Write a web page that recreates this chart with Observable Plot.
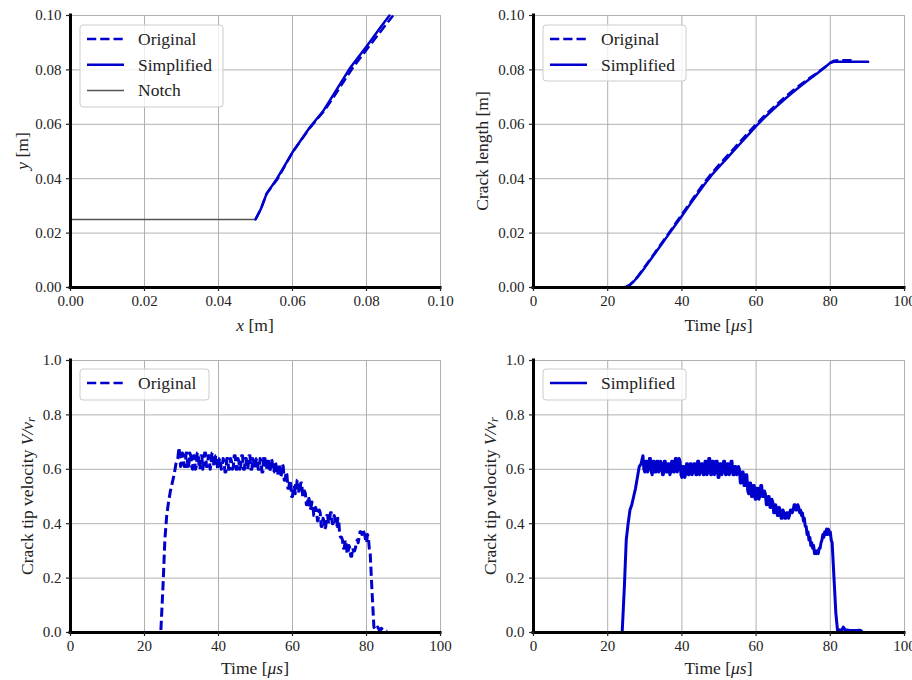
<!DOCTYPE html>
<html><head><meta charset="utf-8">
<script src="https://cdn.jsdelivr.net/npm/d3@7"></script>
<script src="https://cdn.jsdelivr.net/npm/@observablehq/plot@0.6"></script>
<style>
body{margin:0;background:#fff;}
#wrap{position:relative;width:912px;height:680px;overflow:hidden;background:#fff;}
#wrap svg{position:absolute;overflow:visible;}
</style></head><body><div id="wrap"></div>
<script>
// ---------- data ----------
const coordTicks = [0, 0.02, 0.04, 0.06, 0.08, 0.10];
const timeTicks = [0, 20, 40, 60, 80, 100];
const lengthTicks = [0, 0.02, 0.04, 0.06, 0.08, 0.10];
const velocityTicks = [0, 0.2, 0.4, 0.6, 0.8, 1.0];

const notchPath = [[0, 0.025], [0.05, 0.025]];
const pathOriginal = [[0.0500,0.0250],[0.0515,0.0290],[0.0530,0.0345],[0.0560,0.0400],[0.0600,0.0497],[0.0647,0.0587],[0.0686,0.0650],[0.0716,0.0710],[0.0763,0.0808],[0.0808,0.0888],[0.0846,0.0955],[0.0872,0.1000]];
const pathSimplified = [[0.0500,0.0250],[0.0515,0.0290],[0.0530,0.0345],[0.0558,0.0400],[0.0600,0.0497],[0.0646,0.0587],[0.0684,0.0651],[0.0712,0.0712],[0.0757,0.0810],[0.0802,0.0890],[0.0838,0.0957],[0.0862,0.1000]];

const lengthOriginal = [[0,0],[24.4,0],[25.2,0.0003],[26,0.0010],[27,0.0023],[28,0.0039],[30,0.0076],[32,0.0114],[34,0.0153],[36,0.0191],[38,0.0230],[40,0.0269],[42,0.0308],[44,0.0347],[46,0.0385],[48,0.0420],[50,0.0451],[52,0.0481],[54,0.0511],[56,0.0541],[58,0.0571],[60,0.0600],[62,0.0628],[64,0.0654],[66,0.0679],[68,0.0703],[70,0.0725],[72,0.0746],[74,0.0766],[76,0.0785],[78,0.0805],[80,0.0826],[81,0.0834],[83,0.0836],[86,0.0835]];
const lengthSimplified = [[0,0],[24.2,0],[25,0.0003],[26,0.0010],[27,0.0022],[28,0.0037],[30,0.0073],[32,0.0111],[34,0.0149],[36,0.0187],[38,0.0225],[40,0.0263],[42,0.0302],[44,0.0340],[46,0.0378],[48,0.0413],[50,0.0443],[52,0.0473],[54,0.0503],[56,0.0533],[58,0.0563],[60,0.0593],[62,0.0621],[64,0.0647],[66,0.0672],[68,0.0696],[70,0.0719],[72,0.0741],[74,0.0762],[76,0.0782],[78,0.0803],[80,0.0826],[81,0.0830],[85,0.0830],[90.2,0.0830]];

const velocityOriginal = [[0,0],[24.4,0],[25,0.17],[25.5,0.34],[26,0.43],[26.5,0.48],[27,0.52],[27.5,0.55],[28,0.58],[28.5,0.62],[29,0.64],[29.3,0.68],
[29.5,0.66],[29.75,0.61],[30,0.62],[30.25,0.66],[30.5,0.65],[30.75,0.61],[31,0.61],[31.25,0.66],[31.5,0.66],[31.75,0.60],[32,0.62],[32.25,0.66],[32.5,0.65],[32.75,0.61],[33,0.60],[33.25,0.65],[33.5,0.65],[33.75,0.60],[34,0.61],
[34.25,0.66],[34.5,0.66],[34.75,0.61],[35,0.60],[35.25,0.65],[35.5,0.65],[35.75,0.60],[36,0.62],[36.25,0.66],[36.5,0.66],[36.75,0.61],[37,0.61],[37.25,0.65],[37.5,0.65],[37.75,0.60],[38,0.62],[38.25,0.66],[38.5,0.66],[38.75,0.61],[39,0.61],
[39.25,0.65],[39.5,0.65],[39.75,0.60],[40,0.60],[40.25,0.64],[40.5,0.64],[40.75,0.60],[41,0.61],[41.25,0.64],[41.5,0.63],[41.75,0.59],[42,0.59],[42.25,0.64],[42.5,0.64],[42.75,0.60],[43,0.60],[43.25,0.64],[43.5,0.63],[43.75,0.60],[44,0.61],
[44.25,0.65],[44.5,0.65],[44.75,0.60],[45,0.60],[45.25,0.64],[45.5,0.63],[45.75,0.60],[46,0.61],[46.25,0.65],[46.5,0.65],[46.75,0.60],[47,0.60],[47.25,0.64],[47.5,0.64],[47.75,0.60],[48,0.61],[48.25,0.65],[48.5,0.65],[48.75,0.60],[49,0.60],
[49.25,0.64],[49.5,0.63],[49.75,0.60],[50,0.61],[50.25,0.64],[50.5,0.64],[50.75,0.60],[51,0.60],[51.25,0.64],[51.5,0.63],[51.75,0.59],[52,0.59],[52.25,0.65],[52.5,0.65],[52.75,0.60],[53,0.60],[53.25,0.64],[53.5,0.64],[53.75,0.59],[54,0.60],
[54.25,0.64],[54.5,0.63],[54.75,0.59],[55,0.59],[55.25,0.63],[55.5,0.62],[55.75,0.58],[56,0.58],[56.25,0.62],[56.5,0.62],[56.75,0.57],[57,0.58],[57.25,0.62],[57.5,0.61],[57.75,0.56],[58,0.56],[58.25,0.59],[58.5,0.58],[58.75,0.53],[59,0.53],
[59.25,0.56],[59.5,0.55],[59.75,0.50],[60,0.50],[60.25,0.54],[60.5,0.54],[60.75,0.51],[61,0.52],[61.25,0.56],[61.5,0.56],[61.75,0.51],[62,0.52],[62.25,0.55],[62.5,0.55],[62.75,0.50],[63,0.50],[63.25,0.52],[63.5,0.51],[63.75,0.47],[64,0.47],
[64.25,0.50],[64.5,0.49],[64.75,0.45],[65,0.46],[65.25,0.48],[65.5,0.47],[65.75,0.43],[66,0.43],[66.25,0.46],[66.5,0.45],[66.75,0.41],[67,0.42],[67.25,0.45],[67.5,0.44],[67.75,0.39],[68,0.39],[68.25,0.42],[68.5,0.41],[68.75,0.38],[69,0.39],
[69.25,0.43],[69.5,0.43],[69.75,0.40],[70,0.41],[70.25,0.44],[70.5,0.44],[70.75,0.40],[71,0.40],[71.25,0.43],[71.5,0.42],[71.75,0.39],[72,0.39],[72.25,0.42],[72.5,0.41],[72.75,0.36],[73,0.35],[73.25,0.35],[73.5,0.34],[73.75,0.31],[74,0.31],
[74.25,0.34],[74.5,0.33],[74.75,0.29],[75,0.29],[75.25,0.32],[75.5,0.31],[75.75,0.28],[76,0.28],[76.25,0.31],[76.5,0.30],[76.75,0.30],[77,0.31],[77.25,0.33],[77.5,0.34],[77.75,0.33],[78,0.35],[78.25,0.37],[78.5,0.37],[78.75,0.36],[79,0.38],
[79.25,0.37],[79.5,0.36],[79.75,0.34],[80,0.33],[80.25,0.36],[80.5,0.35],[80.75,0.31],[81,0.29],[81.5,0.15],[82,0.02],[82.5,0.01],[83,0.02],[83.5,0.008],[84,0.015],
[84.5,0.008],[85,0.01],[85.5,0.005]];

const velocitySimplified = [[0,0],[23.9,0],[24.5,0.17],[25,0.34],[25.5,0.40],[26,0.45],[26.5,0.47],[27,0.50],[27.5,0.53],[28,0.57],[28.5,0.61],[29,0.62],
[29.5,0.65],[29.75,0.60],[30,0.59],[30.25,0.63],[30.5,0.63],[30.75,0.59],[31,0.60],[31.25,0.64],[31.5,0.64],[31.75,0.59],[32,0.58],[32.25,0.63],[32.5,0.63],[32.75,0.59],[33,0.59],[33.25,0.63],[33.5,0.63],[33.75,0.59],[34,0.60],
[34.25,0.63],[34.5,0.62],[34.75,0.58],[35,0.58],[35.25,0.63],[35.5,0.63],[35.75,0.59],[36,0.59],[36.25,0.62],[36.5,0.62],[36.75,0.58],[37,0.59],[37.25,0.63],[37.5,0.63],[37.75,0.59],[38,0.59],[38.25,0.64],[38.5,0.64],[38.75,0.59],[39,0.60],
[39.25,0.64],[39.5,0.63],[39.75,0.58],[40,0.57],[40.25,0.61],[40.5,0.61],[40.75,0.57],[41,0.58],[41.25,0.62],[41.5,0.62],[41.75,0.58],[42,0.58],[42.25,0.62],[42.5,0.62],[42.75,0.58],[43,0.59],[43.25,0.62],[43.5,0.62],[43.75,0.58],[44,0.58],
[44.25,0.63],[44.5,0.63],[44.75,0.58],[45,0.59],[45.25,0.62],[45.5,0.62],[45.75,0.58],[46,0.58],[46.25,0.63],[46.5,0.63],[46.75,0.58],[47,0.59],[47.25,0.64],[47.5,0.64],[47.75,0.58],[48,0.58],[48.25,0.63],[48.5,0.63],[48.75,0.58],[49,0.59],
[49.25,0.63],[49.5,0.63],[49.75,0.57],[50,0.57],[50.25,0.62],[50.5,0.62],[50.75,0.58],[51,0.59],[51.25,0.63],[51.5,0.63],[51.75,0.58],[52,0.58],[52.25,0.62],[52.5,0.62],[52.75,0.58],[53,0.59],[53.25,0.63],[53.5,0.63],[53.75,0.58],[54,0.58],
[54.25,0.61],[54.5,0.61],[54.75,0.58],[55,0.59],[55.25,0.61],[55.5,0.60],[55.75,0.55],[56,0.55],[56.25,0.59],[56.5,0.59],[56.75,0.54],[57,0.54],[57.25,0.58],[57.5,0.58],[57.75,0.52],[58,0.51],[58.25,0.55],[58.5,0.55],[58.75,0.50],[59,0.50],
[59.25,0.54],[59.5,0.54],[59.75,0.49],[60,0.49],[60.25,0.53],[60.5,0.53],[60.75,0.49],[61,0.50],[61.25,0.54],[61.5,0.54],[61.75,0.50],[62,0.50],[62.25,0.52],[62.5,0.51],[62.75,0.47],[63,0.47],[63.25,0.50],[63.5,0.50],[63.75,0.46],[64,0.46],
[64.25,0.49],[64.5,0.48],[64.75,0.44],[65,0.44],[65.25,0.47],[65.5,0.46],[65.75,0.43],[66,0.43],[66.25,0.46],[66.5,0.45],[66.75,0.42],[67,0.42],[67.25,0.45],[67.5,0.44],[67.75,0.42],[68,0.42],[68.25,0.44],[68.5,0.44],[68.75,0.42],[69,0.43],
[69.25,0.45],[69.5,0.45],[69.75,0.44],[70,0.45],[70.25,0.47],[70.5,0.47],[70.75,0.45],[71,0.45],[71.25,0.47],[71.5,0.46],[71.75,0.44],[72,0.45],[72.25,0.43],[72.5,0.44],[72.75,0.41],[73,0.42],[73.25,0.39],[73.5,0.39],[73.75,0.36],[74,0.37],
[74.25,0.34],[74.5,0.35],[74.75,0.32],[75,0.33],[75.25,0.31],[75.5,0.32],[75.75,0.29],[76,0.30],[76.25,0.29],[76.5,0.30],[76.75,0.29],[77,0.31],[77.25,0.31],[77.5,0.33],[77.75,0.34],[78,0.36],[78.25,0.35],[78.5,0.37],[78.75,0.36],[79,0.38],
[79.25,0.36],[79.5,0.38],[79.75,0.36],[80,0.37],[80.25,0.34],[80.5,0.33],[81,0.20],[81.5,0.07],[82,0.0],[82.5,0.01],[83,0.005],[83.5,0.02],[84,0.01],
[85,0.008],[86,0.007],[87,0.007],[88,0.008],[88.4,0.005]];

// ---------- styles ----------
const BLUE = "#0000cd";
const DASH = "9.25,4";
const FONT = "'Liberation Serif', 'DejaVu Serif', serif";
const wrap = document.getElementById("wrap");

function lineMark(data, dashed, color = BLUE, width = 2.5) {
  return Plot.line(data, {x: d => d[0], y: d => d[1], stroke: color, strokeWidth: width,
    strokeDasharray: dashed ? DASH : null, strokeLinecap: dashed ? "butt" : "round", strokeLinejoin: "round"});
}

function panel(o) {
  const svg = Plot.plot({
    width: 456, height: 340,
    marginLeft: o.ml, marginRight: o.mr, marginTop: o.mt, marginBottom: o.mb,
    style: {fontFamily: FONT, fontSize: "15px", color: "#222", background: "transparent", overflow: "visible"},
    x: {domain: o.xDomain, label: null},
    y: {domain: o.yDomain, label: null},
    marks: [
      Plot.gridX(o.xTicks, {stroke: "#b0b0b0", strokeOpacity: 1, strokeWidth: 1}),
      Plot.gridY(o.yTicks, {stroke: "#b0b0b0", strokeOpacity: 1, strokeWidth: 1}),
      ...o.marks,
      Plot.ruleX([o.xDomain[0]], {stroke: "#000", strokeWidth: 3, strokeLinecap: "square"}),
      Plot.ruleY([o.yDomain[0]], {stroke: "#000", strokeWidth: 3, strokeLinecap: "square"}),
      Plot.axisX(o.xTicks, {tickFormat: o.xFmt, tickSize: 4, tickPadding: 4, label: null, strokeWidth: 1.2, fontSize: 15}),
      Plot.axisY(o.yTicks, {tickFormat: o.yFmt, tickSize: 4, tickPadding: 5, label: null, strokeWidth: 1.2, fontSize: 15})
    ]
  });
  svg.style.left = o.left + "px";
  svg.style.top = o.top + "px";
  const s = d3.select(svg);
  // axis labels
  const xl = s.append("text").attr("x", o.xLab[0]).attr("y", o.xLab[1])
    .attr("text-anchor", "middle").attr("dominant-baseline", "central")
    .attr("font-family", FONT).attr("font-size", 17.5).attr("fill", "#222");
  o.xText.forEach(p => xl.append("tspan").attr("font-style", p.i ? "italic" : null)
    .attr("font-size", p.sub ? 12.5 : null).attr("dy", p.dy || null).text(p.t));
  const yl = s.append("text").attr("transform", `translate(${o.yLab[0]},${o.yLab[1]}) rotate(-90)`)
    .attr("text-anchor", "middle").attr("dominant-baseline", "central")
    .attr("font-family", FONT).attr("font-size", 17.5).attr("fill", "#222");
  o.yText.forEach(p => yl.append("tspan").attr("font-style", p.i ? "italic" : null)
    .attr("font-size", p.sub ? 12.5 : null).attr("dy", p.dy || null).text(p.t));
  // legend
  const L = o.legend;
  const g = s.append("g").attr("text-anchor", "start");
  g.append("rect").attr("x", L.x).attr("y", L.y).attr("width", L.w).attr("height", L.h)
    .attr("rx", 3).attr("fill", "#fff").attr("fill-opacity", 0.8).attr("stroke", "#cccccc").attr("stroke-width", 1);
  L.items.forEach((it, i) => {
    const cy = L.y + 14 + i * 25.7;
    g.append("line").attr("x1", L.x + 7).attr("x2", L.x + 44).attr("y1", cy).attr("y2", cy)
      .attr("stroke", it.color).attr("stroke-width", it.width)
      .attr("stroke-dasharray", it.dashed ? DASH : null);
    g.append("text").attr("x", L.x + 58).attr("y", cy).attr("dominant-baseline", "central")
      .attr("text-anchor", "start")
      .attr("font-family", FONT).attr("font-size", 17.5).attr("fill", "#222").text(it.label);
  });
  wrap.appendChild(svg);
}

const f2 = d3.format(".2f"), f1 = d3.format(".1f"), f0 = d3.format("d");
const itOrig = {label: "Original", color: BLUE, width: 2.5, dashed: true};
const itSimp = {label: "Simplified", color: BLUE, width: 2.5, dashed: false};
const itNotch = {label: "Notch", color: "#555555", width: 1.5, dashed: false};
const timeLabel = [{t: "Time ["}, {t: "μs", i: true}, {t: "]"}];
const velLabel = [{t: "Crack tip velocity "}, {t: "V/v", i: true}, {t: "r", i: true, sub: true, dy: 4}];

panel({left: 0, top: 0, ml: 70, mr: 16, mt: 15, mb: 53,
  xDomain: [0, 0.1], yDomain: [0, 0.1], xTicks: coordTicks, yTicks: coordTicks, xFmt: f2, yFmt: f2,
  marks: [lineMark(notchPath, false, "#555555", 1.5), lineMark(pathOriginal, true), lineMark(pathSimplified, false)],
  xLab: [255, 325], yLab: [22, 151],
  xText: [{t: "x", i: true}, {t: " [m]"}], yText: [{t: "y", i: true}, {t: " [m]"}],
  legend: {x: 80, y: 25, w: 143, h: 82, items: [itOrig, itSimp, itNotch]}});

panel({left: 456, top: 0, ml: 77, mr: 8, mt: 15, mb: 53,
  xDomain: [0, 100], yDomain: [0, 0.1], xTicks: timeTicks, yTicks: lengthTicks, xFmt: f0, yFmt: f2,
  marks: [lineMark(lengthOriginal, true), lineMark(lengthSimplified, false)],
  xLab: [262.5, 325], yLab: [26, 151],
  xText: timeLabel, yText: [{t: "Crack length [m]"}],
  legend: {x: 87, y: 25, w: 143, h: 56, items: [itOrig, itSimp]}});

panel({left: 0, top: 340, ml: 70, mr: 16, mt: 20, mb: 48,
  xDomain: [0, 100], yDomain: [0, 1], xTicks: timeTicks, yTicks: velocityTicks, xFmt: f0, yFmt: f1,
  marks: [lineMark(velocityOriginal, true, BLUE, 3)],
  xLab: [255, 328], yLab: [27, 156],
  xText: timeLabel, yText: velLabel,
  legend: {x: 80, y: 29, w: 129, h: 31, items: [itOrig]}});

panel({left: 456, top: 340, ml: 77, mr: 8, mt: 20, mb: 48,
  xDomain: [0, 100], yDomain: [0, 1], xTicks: timeTicks, yTicks: velocityTicks, xFmt: f0, yFmt: f1,
  marks: [lineMark(velocitySimplified, false, BLUE, 3)],
  xLab: [262.5, 328], yLab: [34, 156],
  xText: timeLabel, yText: velLabel,
  legend: {x: 87, y: 29, w: 143, h: 31, items: [itSimp]}});
</script>
</body></html>
